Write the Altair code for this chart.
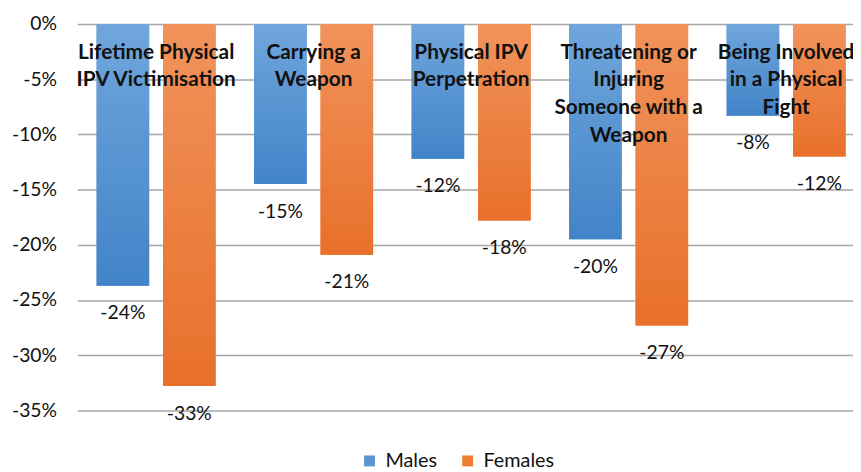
import altair as alt
import pandas as pd

categories = [
    "Lifetime Physical IPV Victimisation",
    "Carrying a Weapon",
    "Physical IPV Perpetration",
    "Threatening or Injuring Someone with a Weapon",
    "Being Involved in a Physical Fight",
]
category_lines = [
    ["Lifetime Physical", "IPV Victimisation"],
    ["Carrying a", "Weapon"],
    ["Physical IPV", "Perpetration"],
    ["Threatening or", "Injuring", "Someone with a", "Weapon"],
    ["Being Involved", "in a Physical", "Fight"],
]
series = ["Males", "Females"]
males = [-23.7, -14.5, -12.2, -19.5, -8.3]
females = [-32.8, -20.9, -17.8, -27.3, -12.0]
male_labels = ["-24%", "-15%", "-12%", "-20%", "-8%"]
female_labels = ["-33%", "-21%", "-18%", "-27%", "-12%"]
y_ticks = [0, -5, -10, -15, -20, -25, -30, -35]
series_colors = ["#5b95d2", "#ed7d31"]

rows = []
for i, c in enumerate(categories):
    rows.append({"category": c, "series": "Males", "value": males[i], "label": male_labels[i]})
    rows.append({"category": c, "series": "Females", "value": females[i], "label": female_labels[i]})
df = pd.DataFrame(rows)
cat_df = pd.DataFrame({"category": categories, "text": ["\n".join(l) for l in category_lines]})

FONT = "Lato"
W, H = 782, 390

x_enc = alt.X("category:N", sort=categories,
              scale=alt.Scale(domain=categories, range=[-1, 794], paddingInner=0, paddingOuter=0),
              axis=None)
xo_enc = alt.XOffset("series:N", sort=series,
                     scale=alt.Scale(domain=series, paddingInner=0.209, paddingOuter=0.29))
y_enc = alt.Y("value:Q", title=None,
              scale=alt.Scale(domain=[-35, 0], nice=False, zero=True),
              axis=alt.Axis(values=y_ticks, labelExpr="datum.value + '%'", domain=False, ticks=False,
                            labelPadding=22, labelFont=FONT, labelFontSize=19.5, labelColor="#111111",
                            gridColor="#a6a6a6", gridWidth=1.5, grid=True))

base = alt.Chart(df)

legend_bars = base.mark_bar().encode(
    x=x_enc, xOffset=xo_enc, y=y_enc,
    color=alt.Color("series:N", sort=series,
                    scale=alt.Scale(domain=series, range=series_colors),
                    legend=alt.Legend(orient="none", legendX=284, legendY=431, direction="horizontal",
                                      title=None, symbolType="square", symbolSize=121,
                                      symbolStrokeWidth=0, labelFont=FONT, labelFontSize=20,
                                      labelColor="#111111", columnPadding=20, labelOffset=6)),
)


def grad(top, bottom):
    return alt.Gradient(gradient="linear", x1=0, x2=0, y1=0, y2=1,
                        stops=[alt.GradientStop(color=top, offset=0),
                               alt.GradientStop(color=bottom, offset=1)])


male_bars = base.transform_filter(alt.datum.series == "Males").mark_bar(
    color=grad("#70a6dc", "#4284c8")).encode(x=x_enc, xOffset=xo_enc, y=y_enc)
female_bars = base.transform_filter(alt.datum.series == "Females").mark_bar(
    color=grad("#f1935c", "#e8702a")).encode(x=x_enc, xOffset=xo_enc, y=y_enc)

value_text = base.mark_text(font=FONT, fontSize=19.5, color="#111111", baseline="alphabetic",
                            dy=34).encode(x=x_enc, xOffset=xo_enc, y=y_enc, text="label:N")

cat_text = alt.Chart(cat_df).mark_text(font=FONT, fontSize=21, fontWeight="bold", color="#111111",
                                       baseline="alphabetic", lineBreak="\n", lineHeight=28).encode(
    x=alt.X("category:N", sort=categories,
            scale=alt.Scale(domain=categories, range=[-1, 794], paddingInner=0, paddingOuter=0),
            axis=None),
    y=alt.value(35),
    text="text:N",
)

chart = alt.layer(legend_bars, male_bars, female_bars, value_text, cat_text).properties(
    width=W, height=H, autosize="none",
    padding={"left": 71, "top": 14, "right": 0, "bottom": 60},
).configure_view(stroke=None)

chart.save("out.html", embed_options={"renderer": "svg", "actions": False})
